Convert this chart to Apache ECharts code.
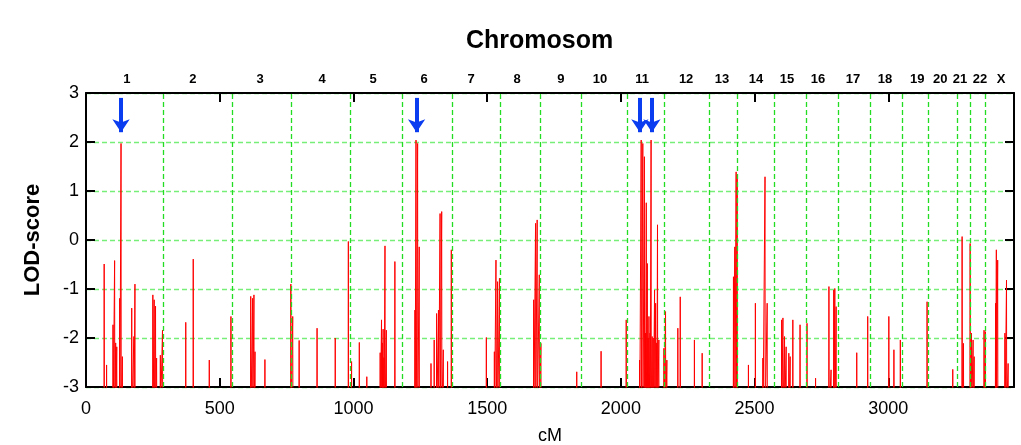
<!DOCTYPE html>
<html>
<head>
<meta charset="utf-8">
<script src="https://cdn.jsdelivr.net/npm/echarts@6/dist/echarts.min.js"></script>
<style>html,body{margin:0;padding:0;background:#fff;}#c{width:1021px;height:445px;}</style>
</head>
<body>
<div id="c"></div>
<script>
// ---- data ----
var chromNames = ['1','2','3','4','5','6','7','8','9','10','11','12','13','14','15','16','17','18','19','20','21','22','X'];
// position of each chromosome label on the top axis (cM)
var chromLabelPos = [153, 400, 651, 883, 1074, 1264, 1440, 1612, 1776, 1922, 2079, 2244, 2378, 2505, 2621, 2737, 2868, 2988, 3108, 3194, 3268, 3343, 3422];
// chromosome boundaries in cM (start of chr1 ... end of X)
var chromBounds = [0, 288, 546, 766, 987, 1181, 1368, 1548, 1697, 1850, 2022, 2164, 2329, 2437, 2572, 2692, 2811, 2931, 3054, 3151, 3256, 3305, 3364, 3470];
var xTicks = [0, 500, 1000, 1500, 2000, 2500, 3000];
// LOD peaks: position (cM) and peak value
var peakPos = [
  68, 77, 101, 107, 111, 115, 126, 131, 136, 171, 179, 183,
  250, 255, 260, 264, 278, 286, 373, 401, 461, 542, 616, 623, 628, 632, 669,
  766, 773, 797, 864, 932, 981, 993, 1022, 1050,
  1100, 1105, 1108, 1111, 1114, 1118, 1123, 1155,
  1230, 1234, 1240, 1246, 1290, 1302, 1311, 1318, 1324, 1330, 1336, 1352, 1366,
  1497, 1527, 1533, 1539, 1546, 1674, 1681, 1687, 1695, 1701, 1835, 1926, 2020,
  2070, 2076, 2082, 2088, 2092, 2095, 2099, 2102, 2105, 2109, 2113, 2117, 2121, 2126, 2130, 2134, 2137, 2142,
  2161, 2167, 2172, 2213, 2222, 2275, 2304,
  2421, 2426, 2431, 2435, 2477, 2503, 2531, 2539, 2547,
  2601, 2606, 2612, 2618, 2628, 2633, 2643, 2670, 2696, 2728, 2778, 2786, 2796, 2800, 2805,
  2882, 2923, 3002, 3021, 3045, 3145, 3241, 3276, 3281, 3306, 3311, 3317, 3321, 3358, 3363,
  3401, 3404, 3409, 3436, 3442, 3448
];
var peakLod = [
  -0.49, -2.55, -1.73, -0.42, -2.1, -2.18, -1.19, 1.97, -2.38, -1.39, -1.97, -0.9,
  -1.12, -1.22, -1.35, -2.41, -2.35, -1.84, -1.68, -0.39, -2.45, -1.56, -1.15, -1.19, -1.12, -2.28, -2.44,
  -0.9, -1.56, -2.05, -1.8, -2.0, -0.03, -2.48, -2.09, -2.79,
  -2.3, -1.63, -2.1, -1.82, -2.4, -0.12, -1.84, -0.44,
  -1.43, 2.04, 1.97, -0.14, -2.52, -2.04, -1.5, -1.43, 0.54, 0.58, -2.24, -2.48, -0.2,
  -1.99, -2.28, -0.41, -0.85, -0.78, -1.22, 0.34, 0.41, -0.71, -2.11, -2.69, -2.27, -1.63,
  -2.45, 2.04, 1.97, 1.7, -1.9, 0.76, -0.48, -2.0, -1.56, -1.9, 2.04, -1.97, -2.0, -1.02, -1.29, -2.1, 0.31, -2.04,
  -2.21, -1.46, -2.45, -1.8, -1.16, -2.04, -2.31,
  -0.75, -0.14, 1.39, 1.33, -2.55, -1.29, -2.41, 1.29, -1.29,
  -1.63, -1.59, -1.97, -2.18, -2.31, -2.38, -1.63, -1.73, -1.7, -2.82, -0.95, -2.65, -1.02, -0.99, -1.36,
  -2.3, -1.56, -1.56, -2.24, -2.04, -1.26, -2.64, 0.07, -2.11, -0.07, -1.9, -2.04, -2.38, -1.84, -1.87,
  -1.29, -0.2, -0.41, -1.9, -0.82, -2.52
];
// blue arrows marking the linked regions (cM)
var arrowPos = [131, 1236, 2071, 2116];
var arrowFrom = 2.9, arrowTo = 2.2;

// ---- build ----
var FONT = 'Liberation Sans, Arial, Helvetica, sans-serif';
function chromLabel(v) {
  for (var i = 0; i < chromLabelPos.length; i++) if (Math.abs(chromLabelPos[i] - v) < 0.01) return chromNames[i];
  return '';
}
var spikeData = [];
var base = -3.6;
for (var k = 0; k < peakPos.length; k++) {
  spikeData.push([peakPos[k] - 0.7, base]);
  spikeData.push([peakPos[k], peakLod[k]]);
  spikeData.push([peakPos[k] + 0.7, base]);
}
var boundLines = chromBounds.slice(1, chromBounds.length - 1).map(function (b) { return { xAxis: b }; });
var arrowData = arrowPos.map(function (x) { return { coords: [[x, arrowFrom], [x, arrowTo]] }; });
var xMin = chromBounds[0], xMax = chromBounds[chromBounds.length - 1];

var chart = echarts.init(document.getElementById('c'), null, { renderer: 'canvas' });
chart.setOption({
  backgroundColor: '#ffffff',
  animation: false,
  textStyle: { fontFamily: FONT },
  title: {
    text: 'Chromosom', left: 461, top: 24,
    textStyle: { fontFamily: FONT, fontSize: 25, fontWeight: 'bold', color: '#000' }
  },
  grid: { left: 86, right: 7, top: 93, bottom: 58, containLabel: false, outerBoundsMode: 'none' },
  xAxis: [{
    type: 'value', position: 'bottom', min: xMin, max: xMax,
    name: 'cM', nameLocation: 'middle', nameGap: 40,
    nameTextStyle: { fontFamily: FONT, fontSize: 18, color: '#000' },
    axisLine: { onZero: false, lineStyle: { color: '#000', width: 2 } },
    axisTick: { inside: true, length: 9, lineStyle: { color: '#000', width: 2 }, customValues: xTicks },
    axisLabel: { customValues: xTicks, formatter: function (v) { return String(v); }, fontFamily: FONT, fontSize: 18, color: '#000', margin: 13 },
    splitLine: { show: false }
  }, {
    type: 'value', position: 'top', min: xMin, max: xMax,
    axisLine: { onZero: false, lineStyle: { color: '#000', width: 2 } },
    axisTick: { inside: true, length: 9, lineStyle: { color: '#000', width: 2 }, customValues: xTicks.slice(1) },
    axisLabel: { customValues: chromLabelPos, formatter: chromLabel, fontFamily: FONT, fontSize: 13, fontWeight: 'bold', color: '#000', margin: 7, hideOverlap: false },
    splitLine: { show: false }
  }],
  yAxis: [{
    type: 'value', min: -3, max: 3, interval: 1, position: 'left',
    name: 'LOD-score', nameLocation: 'middle', nameGap: 42, nameRotate: 90,
    nameTextStyle: { fontFamily: FONT, fontSize: 22, fontWeight: 'bold', color: '#000' },
    axisLine: { show: true, onZero: false, lineStyle: { color: '#000', width: 2 } },
    axisTick: { show: true, inside: true, length: 9, lineStyle: { color: '#000', width: 2 } },
    axisLabel: { fontFamily: FONT, fontSize: 18, color: '#000', margin: 7 },
    splitLine: { show: true, lineStyle: { color: '#77ee77', width: 1.3, type: [5, 3] } }
  }, {
    type: 'value', min: -3, max: 3, interval: 1, position: 'right',
    axisLine: { show: true, onZero: false, lineStyle: { color: '#000', width: 2 } },
    axisTick: { show: true, inside: true, length: 9, lineStyle: { color: '#000', width: 2 } },
    axisLabel: { show: false },
    splitLine: { show: false }
  }],
  series: [{
    name: 'bounds', type: 'line', data: [], z: 1, silent: true,
    markLine: {
      silent: true, symbol: ['none', 'none'], label: { show: false },
      lineStyle: { color: '#22dd22', width: 1.3, type: [5, 3] },
      emphasis: { disabled: true },
      data: boundLines
    }
  }, {
    name: 'LOD', type: 'line', data: spikeData, z: 3, clip: true,
    showSymbol: false, symbol: 'none', silent: true,
    lineStyle: { color: '#ff0000', width: 1 }
  }, {
    name: 'arrows', type: 'lines', coordinateSystem: 'cartesian2d', z: 5, silent: true,
    symbol: ['none', 'arrow'], symbolSize: 13,
    lineStyle: { color: '#0a3cf0', width: 4, opacity: 1, curveness: 0 },
    data: arrowData
  }]
});
</script>
</body>
</html>
